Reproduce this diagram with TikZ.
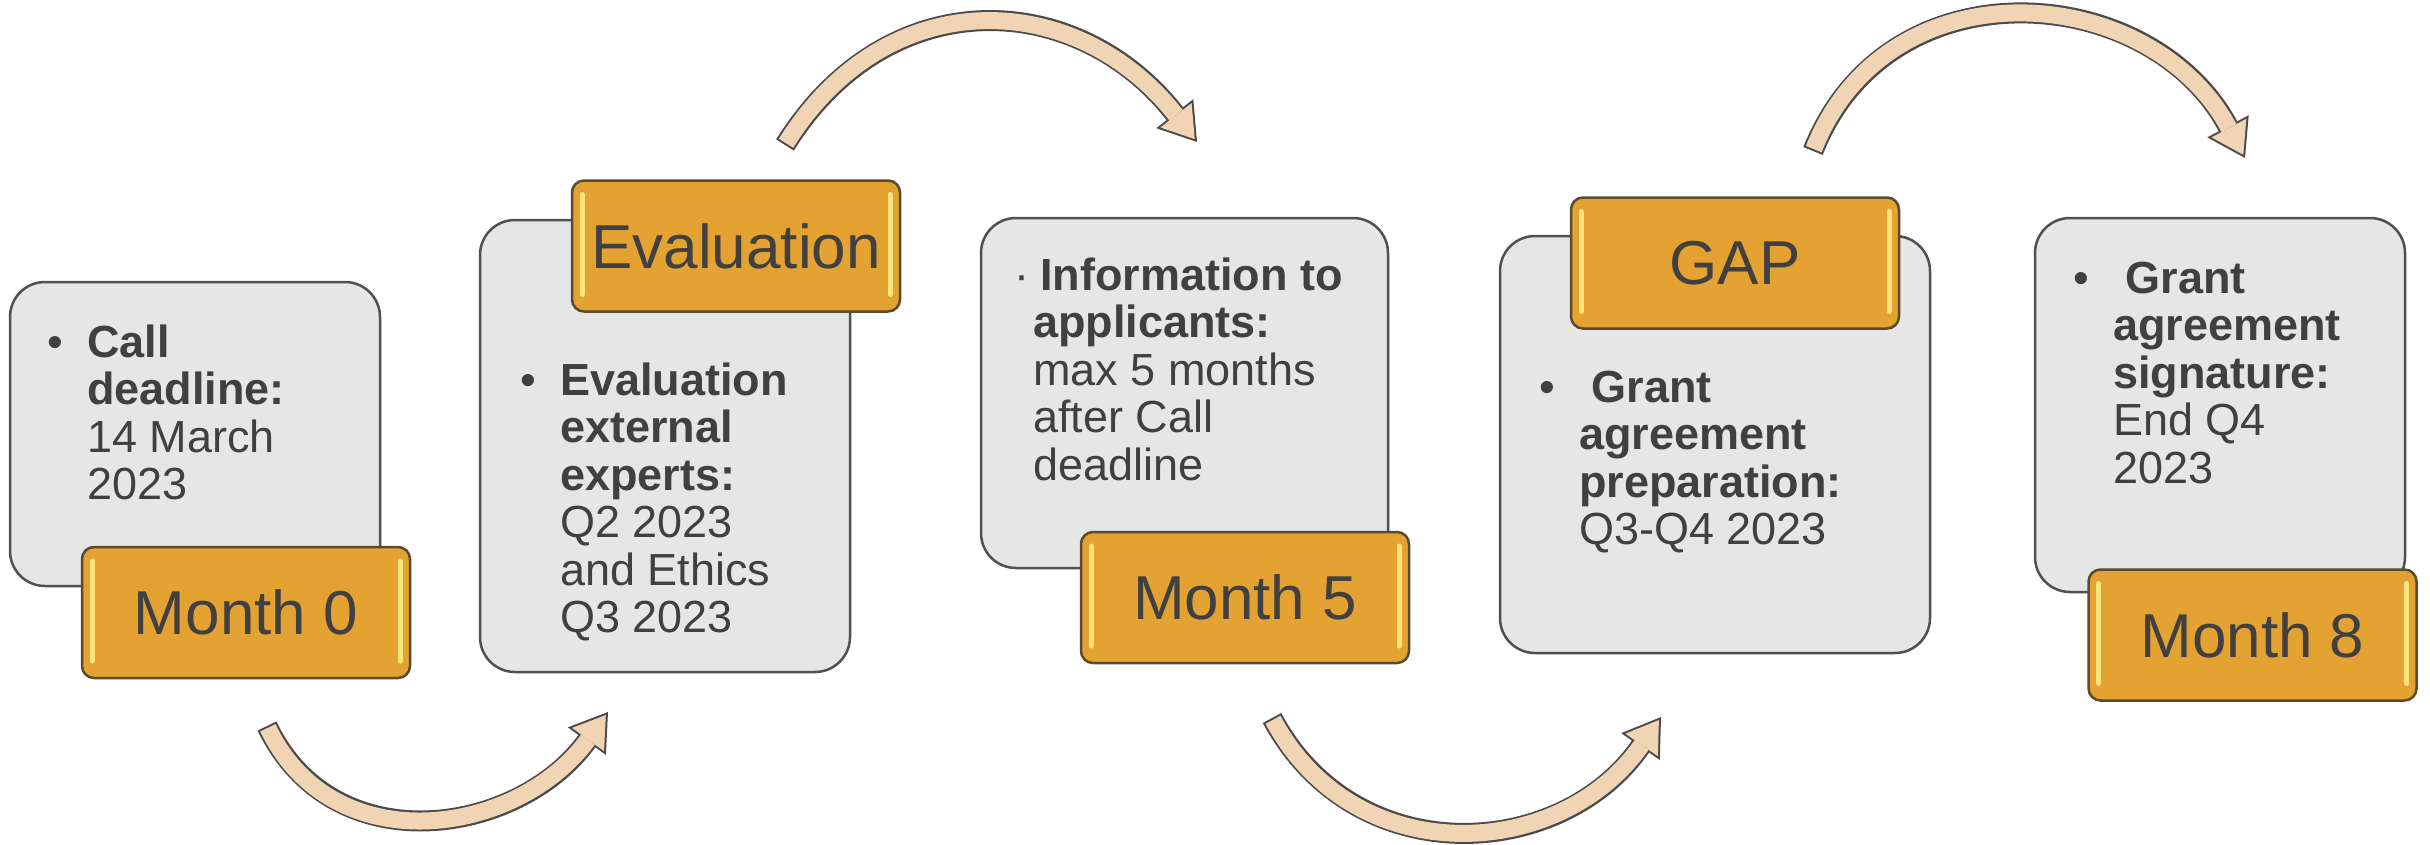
\documentclass[tikz,border=0pt]{standalone}
\usepackage{fontspec}
\setmainfont{Liberation Sans}
\usetikzlibrary{arrows.meta}

\definecolor{boxfill}{HTML}{E6E6E6}
\definecolor{boxline}{HTML}{505050}
\definecolor{gold}{HTML}{E4A232}
\definecolor{goldline}{HTML}{5A4A2E}
\definecolor{hilite}{HTML}{FBE47C}
\definecolor{peach}{HTML}{F1D4B3}
\definecolor{rim}{HTML}{4A4A4A}
\definecolor{ink}{HTML}{404040}

\tikzset{
  stage/.style={draw=boxline, line width=2.5pt, fill=boxfill, rounded corners=35pt, inner sep=0pt},
  shine/.style={draw=hilite, line width=5pt, line cap=round},
  badge/.style={draw=goldline, line width=2.5pt, fill=gold, rounded corners=12pt,
    minimum width=328pt, minimum height=131pt, inner sep=0pt, text=ink,
    font=\fontsize{62}{70}\selectfont,
    path picture={
      \draw[shine] ([shift={(10pt,-14pt)}]path picture bounding box.north west)
        -- ([shift={(10pt,17pt)}]path picture bounding box.south west);
      \draw[shine] ([shift={(-10pt,-14pt)}]path picture bounding box.north east)
        -- ([shift={(-10pt,17pt)}]path picture bounding box.south east);}},
  info/.style={text=ink, inner sep=0pt, anchor=base west, font=\fontsize{45}{47.5}\selectfont},
  arrowrim/.style={draw=rim, line width=21pt, -{Triangle[length=36pt, width=47pt, line width'=0pt]}},
  arrowbody/.style={draw=peach, line width=17pt, shorten <=2pt, shorten >=3.7pt,
    -{Triangle[length=30.3pt, width=39.6pt, line width'=0pt]}}
}

\newcommand{\bendarrow}[4]{%
  \draw[arrowrim] (#1) .. controls +#2 and +#3 .. (#4);
  \draw[arrowbody] (#1) .. controls +#2 and +#3 .. (#4);}

\begin{document}
\begin{tikzpicture}[x=1pt, y=-1pt]
  \useasboundingbox (0,0) rectangle (2430,844);

  % curved arrows between the stages
  \coordinate (a1s) at (267,726);
  \coordinate (a1e) at (608,712);
  \coordinate (a2s) at (785,145);
  \coordinate (a2e) at (1197,142);
  \coordinate (a3s) at (1272,718);
  \coordinate (a3e) at (1661,717);
  \coordinate (a4s) at (1813,151);
  \coordinate (a4e) at (2245,158);
  \bendarrow{a1s}{(66,138)}{(-90,124)}{a1e}
  \bendarrow{a2s}{(103,-165)}{(-120,-153)}{a2e}
  \bendarrow{a3s}{(83,155)}{(-100,144)}{a3e}
  \bendarrow{a4s}{(75,-190)}{(-95,-177)}{a4e}

  % stages
  \node[stage, minimum width=370pt, minimum height=304pt] (b1) at (195,434) {};
  \node[badge] (m0) at (246,612.5) {Month 0};
  \node[info] (t1) at (47,357) {\begin{tabular}[t]{@{}p{40pt}@{}l@{}}
    \textbullet & \textbf{Call}\\
    & \textbf{deadline:}\\
    & 14 March\\
    & 2023
  \end{tabular}};

  \node[stage, minimum width=370pt, minimum height=452pt] (b2) at (665,446) {};
  \node[badge] (ev) at (736,246) {Evaluation};
  \node[info] (t2) at (520,395) {\begin{tabular}[t]{@{}p{40pt}@{}l@{}}
    \textbullet & \textbf{Evaluation}\\
    & \textbf{external}\\
    & \textbf{experts:}\\
    & Q2 2023\\
    & and Ethics\\
    & Q3 2023
  \end{tabular}};

  \node[stage, minimum width=407pt, minimum height=350pt] (b3) at (1184.5,393) {};
  \node[badge] (m5) at (1245,597.5) {Month 5};
  \node[info] (t3) at (1033,290) {\begin{tabular}[t]{@{}l@{}}
    \llap{\textperiodcentered\hspace{4pt}}\hspace{7pt}\textbf{Information to}\\
    \textbf{applicants:}\\
    max 5 months\\
    after Call\\
    deadline
  \end{tabular}};

  \node[stage, minimum width=430pt, minimum height=417pt] (b4) at (1715,444.5) {};
  \node[badge] (gp) at (1735,263) {GAP};
  \node[info] (t4) at (1539,402) {\begin{tabular}[t]{@{}p{40pt}@{}l@{}}
    \textbullet & \ \textbf{Grant}\\
    & \textbf{agreement}\\
    & \textbf{preparation:}\\
    & Q3-Q4 2023
  \end{tabular}};

  \node[stage, minimum width=370pt, minimum height=374pt] (b5) at (2220,405) {};
  \node[badge] (m8) at (2252.5,635) {Month 8};
  \node[info] (t5) at (2073,293) {\begin{tabular}[t]{@{}p{40pt}@{}l@{}}
    \textbullet & \ \textbf{Grant}\\
    & \textbf{agreement}\\
    & \textbf{signature:}\\
    & End Q4\\
    & 2023
  \end{tabular}};
\end{tikzpicture}
\end{document}
